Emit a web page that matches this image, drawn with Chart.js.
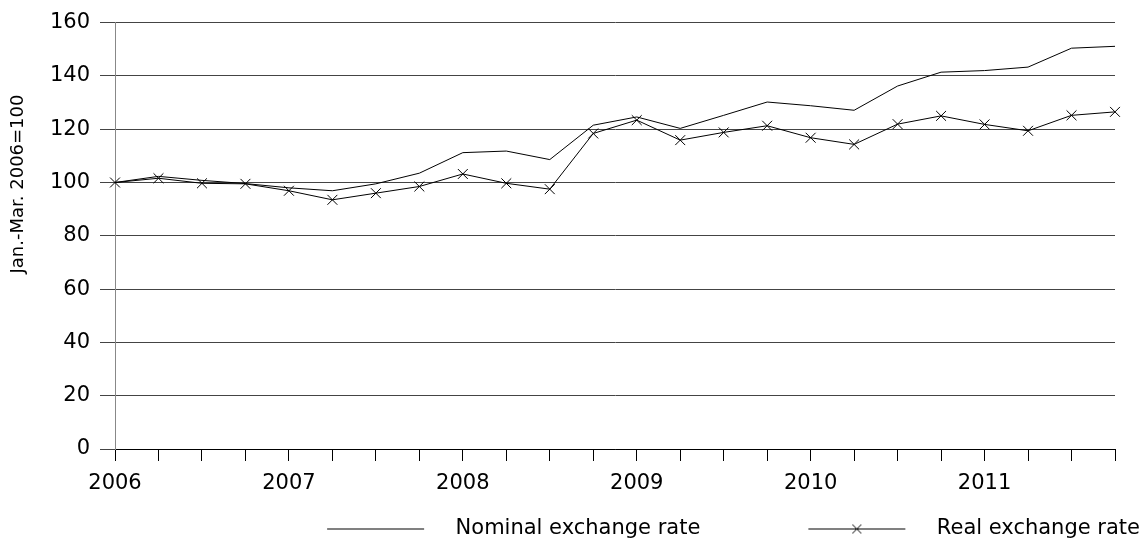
<!DOCTYPE html>
<html>
<head>
<meta charset="utf-8">
<script src="https://cdn.jsdelivr.net/npm/chart.js@4.4.0/dist/chart.umd.min.js"></script>
<style>
  html, body { margin: 0; padding: 0; background: #fff; }
  #wrap { width: 1146px; height: 542px; }
</style>
</head>
<body>
<div id="wrap"><canvas id="chart"></canvas></div>
<script>
// quarterly data, Jan.-Mar. 2006 = 100
const quarters = [
  '2006Q1', '2006Q2', '2006Q3', '2006Q4',
  '2007Q1', '2007Q2', '2007Q3', '2007Q4',
  '2008Q1', '2008Q2', '2008Q3', '2008Q4',
  '2009Q1', '2009Q2', '2009Q3', '2009Q4',
  '2010Q1', '2010Q2', '2010Q3', '2010Q4',
  '2011Q1', '2011Q2', '2011Q3', '2011Q4',
];
const nominal = [100, 102.3, 100.8, 99.6, 98, 96.9, 99.5, 103.5, 111.2, 111.8, 108.6, 121.5,
  124.6, 120.3, 125.2, 130.2, 128.8, 127.1, 136.2, 141.4, 142.0, 143.3, 150.4, 151.1];
const real = [100, 101.6, 99.7, 99.5, 96.9, 93.5, 96.0, 98.5, 103.2, 99.7, 97.5, 118.4,
  123.4, 115.9, 118.8, 121.3, 116.8, 114.3, 121.9, 125.0, 121.8, 119.4, 125.2, 126.5];
const yTicks = [0, 20, 40, 60, 80, 100, 120, 140, 160];

const FONT = 'DejaVu Sans';
Chart.defaults.font.family = FONT;
Chart.defaults.color = '#000';

// legend swatch: blank lead-in, line, optional x marker
function swatch(marker) {
  const cv = document.createElement('canvas');
  cv.width = 220; cv.height = 16;
  const g = cv.getContext('2d');
  g.strokeStyle = '#000';
  g.lineWidth = 1;
  g.beginPath(); g.moveTo(102, 8.5); g.lineTo(199, 8.5); g.stroke();
  if (marker) {
    g.beginPath();
    g.moveTo(146, 4); g.lineTo(155, 13);
    g.moveTo(155, 4); g.lineTo(146, 13);
    g.stroke();
  }
  return cv;
}

const yTitle = {
  id: 'yTitle',
  afterDraw(chart) {
    const ctx = chart.ctx;
    ctx.save();
    ctx.translate(18, 184);
    ctx.rotate(-Math.PI / 2);
    ctx.font = '18px "' + FONT + '"';
    ctx.fillStyle = '#000';
    ctx.textAlign = 'center';
    ctx.textBaseline = 'middle';
    ctx.fillText('Jan.-Mar. 2006=100', 0, 0);
    ctx.restore();
  },
};

new Chart(document.getElementById('chart'), {
  type: 'line',
  data: {
    labels: quarters,
    datasets: [
      {
        label: 'Nominal exchange rate',
        data: nominal,
        borderColor: '#000',
        borderWidth: 1,
        pointRadius: 0,
        tension: 0,
      },
      {
        label: 'Real exchange rate',
        data: real,
        borderColor: '#000',
        borderWidth: 1,
        pointStyle: 'crossRot',
        pointRadius: 7,
        pointBorderColor: '#000',
        pointBorderWidth: 1,
        tension: 0,
      },
    ],
  },
  options: {
    responsive: true,
    maintainAspectRatio: false,
    animation: false,
    devicePixelRatio: 1,
    layout: { padding: { top: 20, left: 0, right: 0, bottom: -7 } },
    plugins: {
      tooltip: { enabled: false },
      legend: {
        position: 'bottom',
        align: 'end',
        labels: {
          usePointStyle: true,
          pointStyleWidth: 220,
          padding: 6,
          font: { size: 21 },
          color: '#000',
          generateLabels: (chart) => chart.data.datasets.map((ds, i) => ({
            text: ds.label,
            pointStyle: swatch(i === 1),
            fillStyle: 'transparent',
            strokeStyle: 'transparent',
            lineWidth: 0,
            datasetIndex: i,
            hidden: false,
          })),
        },
      },
    },
    scales: {
      x: {
        offset: false,
        grid: { display: true, drawOnChartArea: false, drawTicks: true, tickLength: 12, color: '#000' },
        border: { color: '#000', width: 1 },
        ticks: {
          autoSkip: false,
          maxRotation: 0,
          padding: 10,
          font: { size: 21 },
          callback: (v, i) => quarters[i].endsWith('Q1') ? quarters[i].slice(0, 4) : '',
        },
        afterFit: (s) => { s.height = 63; },
      },
      y: {
        min: 0,
        max: 160,
        afterBuildTicks: (s) => { s.ticks = yTicks.map((v) => ({ value: v })); },
        grid: { color: '#444', tickLength: 15 },
        border: { color: '#888', width: 1 },
        ticks: { padding: 10, font: { size: 21 } },
        afterFit: (s) => { s.width = 115; },
      },
      y2: {
        position: 'right',
        display: true,
        grid: { display: false },
        border: { display: false },
        ticks: { display: false },
        afterFit: (s) => { s.width = 31; },
      },
    },
  },
  plugins: [yTitle],
});
</script>
</body>
</html>
